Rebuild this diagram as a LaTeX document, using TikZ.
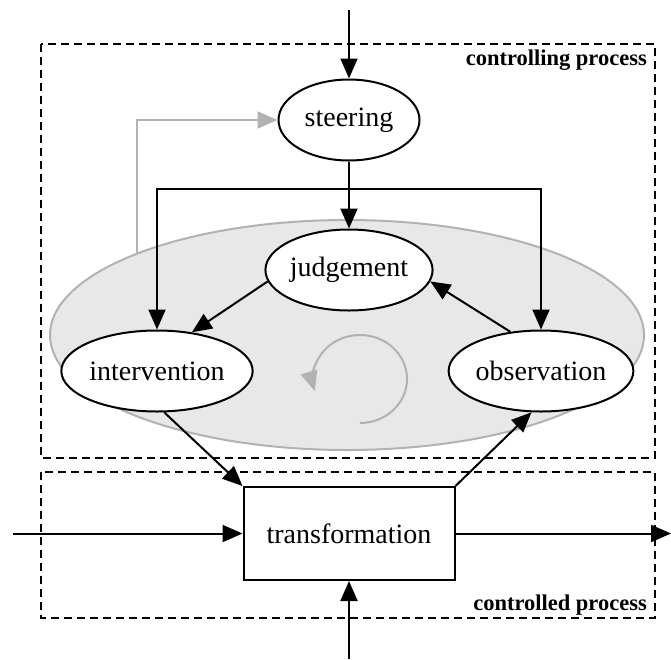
\documentclass[tikz,border=0pt]{standalone}
\usepackage{fontspec}
\setmainfont{Liberation Serif}
\usetikzlibrary{arrows.meta,shapes.geometric}
\begin{document}
\begin{tikzpicture}[x=1pt,y=-1pt,
  line/.style={line width=2pt,black},
  arr/.style={line,-{Triangle[length=20pt,width=17pt]}},
  garr/.style={line width=2pt,color=black!30,-{Triangle[length=20pt,width=17pt]}},
  oval/.style={ellipse,draw,line width=2pt,fill=white,minimum width=141pt,minimum height=81pt,inner sep=0pt,font=\fontsize{28}{30}\selectfont},
  procbox/.style={draw,dash pattern=on 8pt off 5pt,line width=2.4pt},
  boxlabel/.style={font=\fontsize{22.5}{24}\selectfont\bfseries,anchor=base east,inner sep=0pt}]
\useasboundingbox (0,0) rectangle (671,659);

% process frames
\draw[procbox] (41,44) rectangle (655,458);
\draw[procbox] (41,472) rectangle (655,618);
\node[boxlabel] (lblctl) at (647,65) {controlling process};
\node[boxlabel] (lblctd) at (647,610) {controlled process};

% shaded region of the control loop
\node[ellipse,draw=black!30,line width=2pt,fill=black!9,minimum width=594pt,minimum height=230pt,inner sep=0pt] (loop) at (347,335) {};
\coordinate (loopfoot) at (137,253);

% loop direction (y axis points down, so negative angles run upward)
\draw[garr] (360,423) arc[start angle=90,end angle=-196,x radius=47,y radius=44];

% nodes
\node[oval] (steering) at (349,120) {steering};
\node[oval] (judgement) at (349,270) {judgement};
\node[oval] (intervention) at (157,371) {intervention};
\node[oval] (observation) at (541,371) {observation};
\node[draw,line width=2pt,fill=white,minimum width=211pt,minimum height=93pt,inner sep=0pt,font=\fontsize{28}{30}\selectfont] (transformation) at (349,533.5) {transformation};

% free ends
\coordinate (topin) at (349,10);
\coordinate (leftin) at (13,533.5);
\coordinate (rightout) at (671,533.5);
\coordinate (botin) at (349,659);
\coordinate (split) at (349,189);

% connectors
\draw[garr] (loopfoot) |- (steering.west);
\draw[arr] (topin) -- (steering.north);
\draw[arr] (steering.south) -- (judgement.north);
\draw[arr] (split) -| (intervention.north);
\draw[arr] (split) -| (observation.north);
\draw[arr] (judgement.188) -- (intervention.48);
\draw[arr] (observation.128) -- (judgement.-8);
\draw[arr] (intervention.-80) -- (transformation.north west);
\draw[arr] (transformation.north east) -- (observation.-103);
\draw[arr] (leftin) -- (transformation.west);
\draw[arr] (transformation.east) -- (rightout);
\draw[arr] (botin) -- (transformation.south);
\end{tikzpicture}
\end{document}
